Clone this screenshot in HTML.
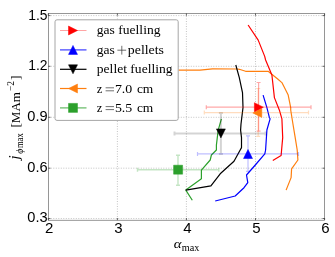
<!DOCTYPE html>
<html><head><meta charset="utf-8"><title>chart</title>
<style>html,body{margin:0;padding:0;background:#fff;width:335px;height:257px;overflow:hidden}svg{will-change:transform;opacity:0.999}</style></head>
<body>
<svg width="335" height="257" viewBox="0 0 335 257" style="position:absolute;left:0;top:0">
<rect x="0" y="0" width="335" height="257" fill="#fff"/>
<g stroke="#949494" stroke-width="0.55" stroke-dasharray="1,1.5" fill="none"><path d="M117.4,13.5V220.2"/><path d="M186.4,13.5V220.2"/><path d="M255.5,13.5V220.2"/><path d="M48.3,15.6H324.6"/><path d="M48.3,66.3H324.6"/><path d="M48.3,117.3H324.6"/><path d="M48.3,168.2H324.6"/><path d="M48.3,218.5H324.6"/></g>
<polyline points="178.5,70.2 200.0,70.2 212.5,68.9 237.6,69.0 239.3,69.3 245.6,71.3 268.1,71.3 277.7,79.0 281.9,82.6 288.2,95.1 290.7,107.6 290.7,110.0 292.7,122.5 295.2,137.6 297.2,150.0 297.9,160.0 291.6,168.8 291.1,177.6 286.1,190.1" fill="none" stroke="#ff7f0e" stroke-width="1.2" stroke-linejoin="round"/>
<polyline points="221.4,118.8 218.2,130.1 216.4,145.1 216.4,150.0 211.4,155.0 210.2,160.0 201.4,170.1 201.4,178.8 185.8,190.1 192.3,200.2" fill="none" stroke="#2ca02c" stroke-width="1.2" stroke-linejoin="round"/>
<polyline points="235.8,65.0 239.3,77.6 242.5,92.6 243.0,107.6 241.0,124.0 240.6,130.1 241.5,137.6 241.5,147.6 240.2,150.0 234.0,161.3 220.2,173.8 210.9,185.9 185.8,190.1" fill="none" stroke="#000000" stroke-width="1.2" stroke-linejoin="round"/>
<polyline points="263.1,95.1 266.9,107.6 269.4,117.7 270.1,118.8 266.9,130.0 265.6,150.0 264.8,153.8 255.3,165.0 246.5,175.0 247.8,182.6 244.0,187.7 235.2,196.0 215.2,201.0" fill="none" stroke="#0000ff" stroke-width="1.2" stroke-linejoin="round"/>
<polyline points="248.1,25.0 258.2,40.1 264.7,56.4 265.6,60.0 271.9,75.0 274.4,97.6 279.4,110.2 281.9,118.8 282.7,137.6 281.6,150.0 281.1,155.5 272.8,160.5" fill="none" stroke="#ff0000" stroke-width="1.2" stroke-linejoin="round"/>
<g stroke="#2ca02c" stroke-opacity="0.28" stroke-width="1.4" fill="none"><path d="M137.5,169.7H218.8M178,155.2V185.2M137.5,167.7V171.7M218.8,167.7V171.7M176,155.2H180M176,185.2H180"/></g>
<g stroke="#000" stroke-opacity="0.17" stroke-width="2.0" fill="none"><path d="M174.5,133.4H265.5M220.9,113V153.9M174.5,131.4V135.4M265.5,131.4V135.4M218.9,113H222.9M218.9,153.9H222.9"/></g>
<g stroke="#0000ff" stroke-opacity="0.25" stroke-width="1.2" fill="none"><path d="M197.5,153.9H298.5M248,135.8V171.3M197.5,151.9V155.9M298.5,151.9V155.9M246,135.8H250M246,171.3H250"/></g>
<g stroke="#ff7f0e" stroke-opacity="0.27" stroke-width="1.2" fill="none"><path d="M204.3,112.6H308.5M258.2,88.5V136.3M204.3,110.6V114.6M308.5,110.6V114.6M256.2,88.5H260.2M256.2,136.3H260.2"/></g>
<g stroke="#ff0000" stroke-opacity="0.34" stroke-width="1.2" fill="none"><path d="M206.3,107.2H311M258.6,82.5V131.2M206.3,105.2V109.2M311,105.2V109.2M256.6,82.5H260.6M256.6,131.2H260.6"/></g>
<path d="M173.6,165.2H182.6V174.2H173.6Z" fill="#2ca02c" stroke="#2ca02c" stroke-width="0.5"/>
<path d="M216.4,128.9L220.9,137.9L225.4,128.9Z" fill="#000000" stroke="#000000" stroke-width="0.5"/>
<path d="M243.5,158.5L248,149.5L252.5,158.5Z" fill="#0000ff" stroke="#0000ff" stroke-width="0.5"/>
<path d="M261.8,108.4L252.8,112.9L261.8,117.4Z" fill="#ff7f0e" stroke="#ff7f0e" stroke-width="0.5"/>
<path d="M254.39999999999998,102.7L263.4,107.2L254.39999999999998,111.7Z" fill="#ff0000" stroke="#ff0000" stroke-width="0.5"/>
<rect x="48.3" y="13.5" width="276.3" height="206.7" fill="none" stroke="#505050" stroke-width="0.6"/>
<g stroke="#333" stroke-width="0.7"><path d="M48.3,220.2v-2.2M48.3,13.5v2.2"/><path d="M117.4,220.2v-2.2M117.4,13.5v2.2"/><path d="M186.4,220.2v-2.2M186.4,13.5v2.2"/><path d="M255.5,220.2v-2.2M255.5,13.5v2.2"/><path d="M324.6,220.2v-2.2M324.6,13.5v2.2"/><path d="M48.3,15.6h2.2M324.6,15.6h-2.2"/><path d="M48.3,66.3h2.2M324.6,66.3h-2.2"/><path d="M48.3,117.3h2.2M324.6,117.3h-2.2"/><path d="M48.3,168.2h2.2M324.6,168.2h-2.2"/><path d="M48.3,218.5h2.2M324.6,218.5h-2.2"/></g>
<g font-family="Liberation Sans, sans-serif" font-size="15" fill="#000"><text x="49.199999999999996" y="232.9" text-anchor="middle">2</text><text x="118.30000000000001" y="232.9" text-anchor="middle">3</text><text x="187.3" y="232.9" text-anchor="middle">4</text><text x="256.4" y="232.9" text-anchor="middle">5</text><text x="325.5" y="232.9" text-anchor="middle">6</text><text x="28.3" y="19.5" textLength="19.3" lengthAdjust="spacingAndGlyphs">1.5</text><text x="28.3" y="70.2" textLength="19.3" lengthAdjust="spacingAndGlyphs">1.2</text><text x="27.3" y="121.2" textLength="20.3" lengthAdjust="spacingAndGlyphs">0.9</text><text x="27.3" y="172.1" textLength="20.3" lengthAdjust="spacingAndGlyphs">0.6</text><text x="27.3" y="222.4" textLength="20.3" lengthAdjust="spacingAndGlyphs">0.3</text></g>
<rect x="55" y="19.8" width="123.2" height="100.6" rx="2" ry="2" fill="#fff" stroke="#a6a6a6" stroke-width="1"/>
<path d="M60,30.5H86.5" stroke="#ff0000" stroke-width="0.6" stroke-opacity="0.6"/>
<path d="M68.5,26.0L77.5,30.5L68.5,35.0Z" fill="#ff0000" stroke="#ff0000" stroke-width="0.5"/>
<path d="M60,49.9H86.5" stroke="#0000ff" stroke-width="1.15" stroke-opacity="0.8"/>
<path d="M68.5,54.4L73,45.4L77.5,54.4Z" fill="#0000ff" stroke="#0000ff" stroke-width="0.5"/>
<path d="M60,69.3H86.5" stroke="#000000" stroke-width="1.2" stroke-opacity="1"/>
<path d="M68.5,64.8L73,73.8L77.5,64.8Z" fill="#000000" stroke="#000000" stroke-width="0.5"/>
<path d="M60,88.5H86.5" stroke="#ff7f0e" stroke-width="1.2" stroke-opacity="1"/>
<path d="M77.5,84.0L68.5,88.5L77.5,93.0Z" fill="#ff7f0e" stroke="#ff7f0e" stroke-width="0.5"/>
<path d="M60,107.9H86.5" stroke="#2ca02c" stroke-width="1.2" stroke-opacity="0.75"/>
<path d="M68.5,103.4H77.5V112.4H68.5Z" fill="#2ca02c" stroke="#2ca02c" stroke-width="0.5"/>
<g font-family="Liberation Serif, serif" fill="#000"><text x="96.8" y="34.1" font-size="13.5" textLength="63.7" lengthAdjust="spacingAndGlyphs">gas fuelling</text><text x="96.8" y="53.6" font-size="13.5" textLength="18.1" lengthAdjust="spacingAndGlyphs">gas</text><path d="M117.4,50.2h8.8M121.8,45.8v8.8" stroke="#333" stroke-width="0.7" fill="none"/><text x="127.8" y="53.6" font-size="13.5" textLength="36.2" lengthAdjust="spacingAndGlyphs">pellets</text><text x="96.8" y="73.0" font-size="13.5" textLength="75.8" lengthAdjust="spacingAndGlyphs">pellet fuelling</text><text x="96.8" y="92.69999999999999" font-size="13.5" textLength="5.6" lengthAdjust="spacingAndGlyphs">z</text><path d="M105.6,87.8h8.4M105.6,90.8h8.4" stroke="#333" stroke-width="0.7" fill="none"/><text x="114.9" y="92.69999999999999" font-size="13.5" textLength="17.4" lengthAdjust="spacingAndGlyphs">7.0</text><text x="136.9" y="92.69999999999999" font-size="13.5" textLength="16.4" lengthAdjust="spacingAndGlyphs">cm</text><text x="96.8" y="111.5" font-size="13.5" textLength="5.6" lengthAdjust="spacingAndGlyphs">z</text><path d="M105.6,106.60000000000001h8.4M105.6,109.60000000000001h8.4" stroke="#333" stroke-width="0.7" fill="none"/><text x="114.9" y="111.5" font-size="13.5" textLength="17.4" lengthAdjust="spacingAndGlyphs">5.5</text><text x="136.9" y="111.5" font-size="13.5" textLength="16.4" lengthAdjust="spacingAndGlyphs">cm</text></g>
<text x="173.8" y="248.2" font-family="Liberation Serif, serif" font-size="13.2" font-style="italic" textLength="7.8" lengthAdjust="spacingAndGlyphs" fill="#000">α</text>
<text x="181.7" y="251.3" font-family="Liberation Serif, serif" font-size="10" textLength="17.6" lengthAdjust="spacingAndGlyphs" fill="#000">max</text>
<g transform="translate(19.5,163) rotate(-90)" font-family="Liberation Serif, serif" fill="#000"><text x="3.4" y="-0.8" font-size="14.5" font-style="italic">j</text><text x="9.3" y="3.1" font-size="10" font-style="italic">ϕ</text><text x="14.9" y="3.1" font-size="9.5" textLength="14.8" lengthAdjust="spacingAndGlyphs">max</text><text x="35.5" y="0" font-size="13.5" textLength="35.5" lengthAdjust="spacingAndGlyphs">[MAm</text><text x="72" y="-6" font-size="10" textLength="10" lengthAdjust="spacingAndGlyphs">−2</text><text x="83" y="0" font-size="13.5">]</text></g>
</svg>
</body></html>
